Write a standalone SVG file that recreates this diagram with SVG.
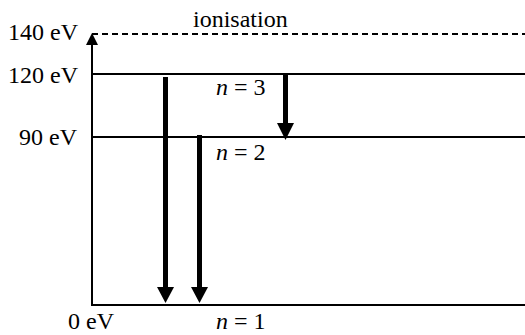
<svg xmlns="http://www.w3.org/2000/svg" width="525" height="335" viewBox="0 0 525 335">
<style>
.lv{stroke:#000;stroke-width:2;fill:none}
.dash{stroke:#000;stroke-width:2;stroke-dasharray:6 4;fill:none}
.tr{stroke:#000;stroke-width:5;fill:none}
.hd{fill:#000}
</style>
<rect width="525" height="335" fill="#fff"/>
<g font-family="Liberation Serif, Times New Roman, serif" font-size="24" fill="#000">
<g id="axis">
<line class="lv" x1="92" y1="306" x2="92" y2="42"/>
<polygon class="hd" points="92,33 86,45 98,45"/>
</g>
<g id="level-ionisation">
<line class="dash" x1="92" y1="34" x2="525" y2="34"/>
<text x="8" y="40">140 eV</text>
<text x="193" y="27">ionisation</text>
</g>
<g id="level-n3">
<line class="lv" x1="92" y1="74" x2="525" y2="74"/>
<text x="8" y="83">120 eV</text>
<text x="216" y="95"><tspan font-style="italic">n</tspan> = 3</text>
</g>
<g id="level-n2">
<line class="lv" x1="92" y1="137" x2="525" y2="137"/>
<text x="19" y="145">90 eV</text>
<text x="216" y="160"><tspan font-style="italic">n</tspan> = 2</text>
</g>
<g id="level-n1">
<line class="lv" x1="91" y1="305" x2="525" y2="305"/>
<text x="68" y="329">0 eV</text>
<text x="216" y="329"><tspan font-style="italic">n</tspan> = 1</text>
</g>
</g>
<g id="connectors">
<line class="tr" x1="165.5" y1="77" x2="165.5" y2="288"/>
<polygon class="hd" points="157,287 174,287 165.5,303"/>
<line class="tr" x1="199.5" y1="135" x2="199.5" y2="288"/>
<polygon class="hd" points="191,287 208,287 199.5,303"/>
<line class="tr" x1="285.5" y1="74" x2="285.5" y2="124"/>
<polygon class="hd" points="277,123 294,123 285.5,140"/>
</g>
</svg>
